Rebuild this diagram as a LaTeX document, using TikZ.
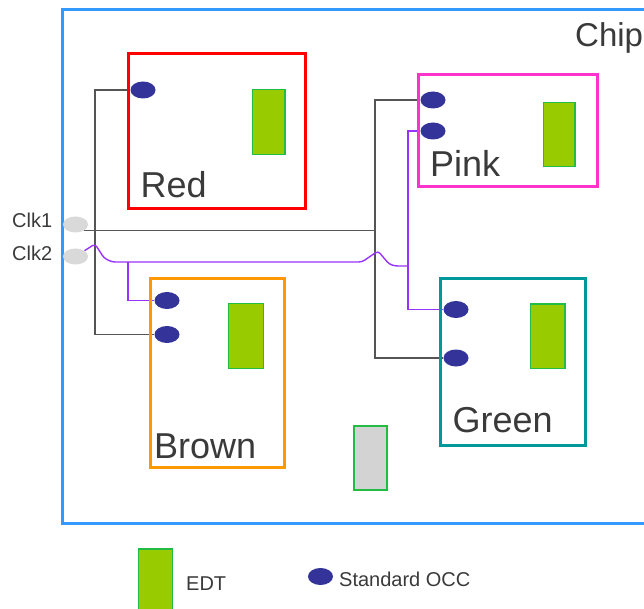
\documentclass[tikz,border=0pt]{standalone}
\usepackage{fontspec}
\setmainfont{Liberation Sans}
\usetikzlibrary{shapes.geometric}
\pgfdeclarelayer{background}
\pgfsetlayers{background,main}
\definecolor{chipblue}{HTML}{3399FF}
\definecolor{redc}{HTML}{FF0000}
\definecolor{pinkc}{HTML}{FF33CC}
\definecolor{brownc}{HTML}{FF9900}
\definecolor{greenc}{HTML}{009999}
\definecolor{occblue}{HTML}{333399}
\definecolor{edtgreen}{HTML}{99CC00}
\definecolor{edtline}{HTML}{22BB44}
\definecolor{padgray}{HTML}{D9D9D9}
\definecolor{spare}{HTML}{D3D3D3}
\definecolor{wiregray}{HTML}{555555}
\definecolor{wirepurple}{HTML}{9933FF}
\definecolor{txt}{HTML}{3A3A3A}
\begin{document}
\begin{tikzpicture}[x=1pt, y=-1pt,
    occ/.style={ellipse, fill=occblue, minimum width=25pt, minimum height=17pt, inner sep=0pt},
    pad/.style={ellipse, fill=padgray, minimum width=25pt, minimum height=16pt, inner sep=0pt},
    block/.style={line width=3pt},
    edt/.style={draw=edtline, fill=edtgreen, line width=1.3pt},
    wire/.style={draw=wiregray, line width=1.4pt},
    wireclk/.style={draw=wirepurple, line width=1.4pt},
    bigtext/.style={anchor=base west, inner sep=0pt, text=txt, font=\fontsize{36}{40}\selectfont},
    smalltext/.style={anchor=base west, inner sep=0pt, text=txt, font=\fontsize{20}{24}\selectfont}]
    \useasboundingbox (0,0) rectangle (644,609);
    \clip (0,0) rectangle (644,609);

    % Chip
    \draw[chipblue, line width=3pt] (62,10) rectangle (700,523);
    \node[anchor=base west, inner sep=0pt, text=txt, font=\fontsize{33}{37}\selectfont] (chiplabel) at (575,47) {Chip};

    % Blocks
    \draw[block, redc] (128.5,54) rectangle (305.5,208.5);
    \draw[block, pinkc] (418.5,75) rectangle (597,186.5);
    \draw[block, brownc] (150,278) rectangle (284,467);
    \draw[block, greenc] (440,278) rectangle (585.5,445);
    \node[bigtext] (redlabel) at (140.5,198) {Red};
    \node[bigtext] (pinklabel) at (430,176.5) {Pink};
    \node[bigtext] (brownlabel) at (154,458) {Brown};
    \node[bigtext] (greenlabel) at (452.5,432.5) {Green};

    % EDT
    \draw[edt] (252.7,89.7) rectangle (285,154.3);
    \draw[edt] (543.3,102.3) rectangle (575,166.7);
    \draw[edt] (228.7,303.7) rectangle (263.3,368.3);
    \draw[edt] (530.7,304) rectangle (565,368.3);
    \draw[draw=edtline, fill=spare, line width=2pt] (353.5,426) rectangle (387,490);

    % Standard OCC
    \node[occ] (occR) at (143,90) {};
    \node[occ] (occP1) at (433,100) {};
    \node[occ] (occP2) at (433,131) {};
    \node[occ] (occB1) at (167,300.5) {};
    \node[occ] (occB2) at (167,334.5) {};
    \node[occ] (occG1) at (456,309.5) {};
    \node[occ] (occG2) at (456,358) {};

    % Clocks
    \node[pad] (clk1) at (75.5,224.5) {};
    \node[pad] (clk2) at (75.5,256.5) {};
    \node[smalltext] (clk1label) at (12,228) {Clk1};
    \node[smalltext] (clk2label) at (12,261) {Clk2};

    % Wires
    \coordinate (trunkL) at (95,0);
    \coordinate (trunkR) at (375,0);
    \coordinate (busB) at (128,262);
    \coordinate (busP) at (408,266);
    \begin{pgfonlayer}{background}
        \draw[wire] (occR.west) -- (occR.west -| trunkL) -- (occB2.west -| trunkL) -- (occB2.west);
        \draw[wire] (occP1.west) -- (occP1.west -| trunkR) -- (occG2.west -| trunkR) -- (occG2.west);
        \draw[wire] (clk1.south east) -- (clk1.south east -| trunkR);
        \draw[wireclk, rounded corners=3pt] (clk2.north east) -- (95,244) -- (104,258) -- (112,262)
            -- (362,262) -- (378,251) -- (389,264) -- (395,266) -- (busP);
        \draw[wireclk] (busB) |- (occB1.west);
        \draw[wireclk] (occP2.west) -| (busP) |- (occG1.west);
    \end{pgfonlayer}

    % Legend
    \draw[edt] (138.7,549) rectangle (172.6,620);
    \node[smalltext] (edtlabel) at (186,590) {EDT};
    \node[occ] (occkey) at (320.5,576.5) {};
    \node[smalltext] (occlabel) at (339,586) {Standard OCC};
\end{tikzpicture}
\end{document}
